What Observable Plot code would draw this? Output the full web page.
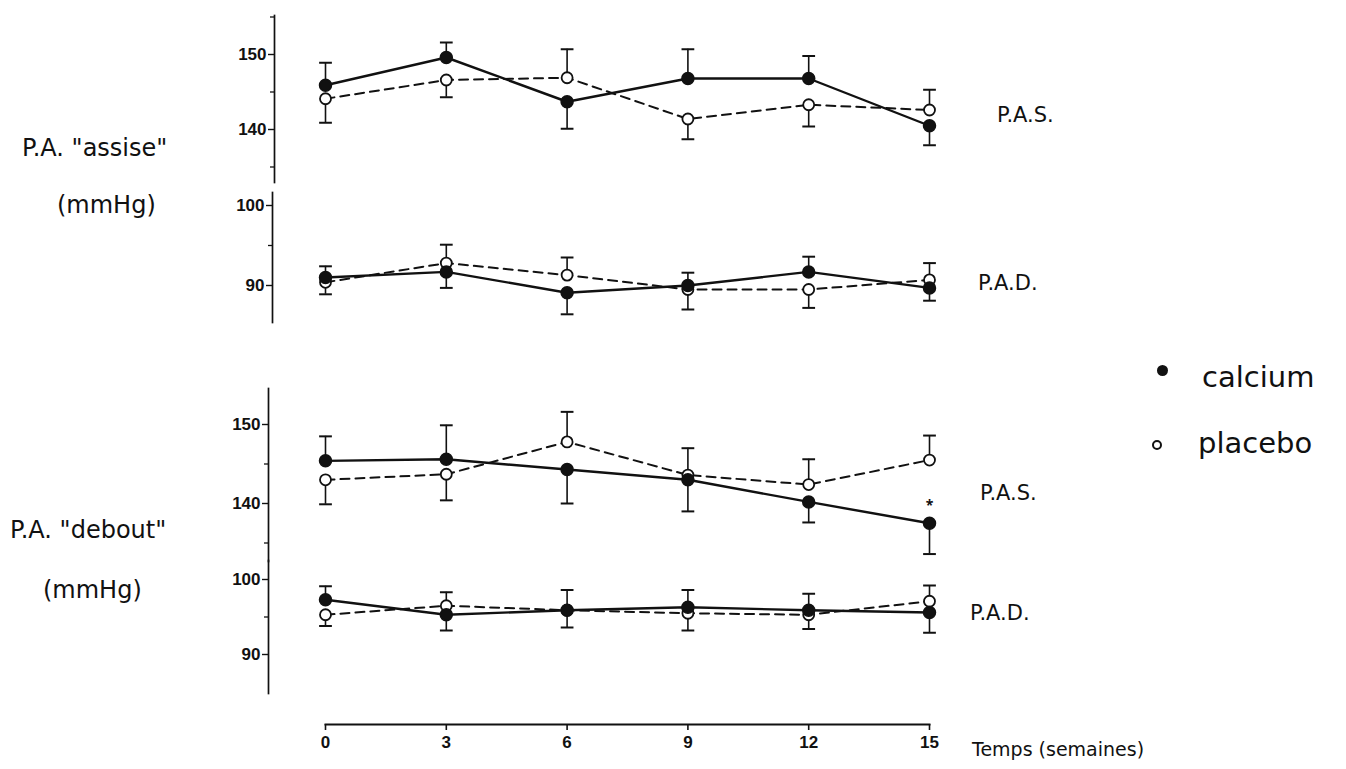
<!DOCTYPE html>
<html><head><meta charset="utf-8">
<script src="https://cdn.jsdelivr.net/npm/d3@7"></script>
<script src="https://cdn.jsdelivr.net/npm/@observablehq/plot@0.6"></script>
<style>
body{margin:0;background:#fff;}
#wrap{position:relative;width:1346px;height:769px;overflow:hidden;background:#fff;font-family:"DejaVu Sans",sans-serif;color:#111;}
#wrap svg{position:absolute;left:0;top:0;}
.lbl{position:absolute;white-space:nowrap;line-height:1;transform:translateY(-50%);}
.mk{position:absolute;border-radius:50%;box-sizing:border-box;}
</style></head><body><div id="wrap"></div>
<script>
// ---- data ----
const weeks = [0, 3, 6, 9, 12, 15];
const xTicks = [0, 3, 6, 9, 12, 15];

// P.A. "assise" — P.A.S.
const assisePAS_calcium     = [145.9, 149.6, 143.7, 146.8, 146.8, 140.5];
const assisePAS_calciumErr  = [148.9, 151.6, 140.1, 150.7, 149.8, 137.9];
const assisePAS_placebo     = [144.1, 146.6, 146.9, 141.4, 143.3, 142.6];
const assisePAS_placeboErr  = [140.9, 144.3, 150.7, 138.7, 140.4, 145.3];
// P.A. "assise" — P.A.D.
const assisePAD_calcium     = [91.0, 91.7, 89.1, 90.0, 91.7, 89.7];
const assisePAD_calciumErr  = [92.4, 89.7, 86.4, 91.6, 93.6, 88.1];
const assisePAD_placebo     = [90.4, 92.8, 91.3, 89.5, 89.5, 90.7];
const assisePAD_placeboErr  = [88.9, 95.1, 93.5, 87.0, 87.2, 92.8];
// P.A. "debout" — P.A.S.
const deboutPAS_calcium     = [145.4, 145.6, 144.3, 143.0, 140.2, 137.5];
const deboutPAS_calciumErr  = [148.5, 149.9, 140.0, 139.0, 137.6, 133.6];
const deboutPAS_placebo     = [143.0, 143.7, 147.8, 143.6, 142.4, 145.5];
const deboutPAS_placeboErr  = [139.9, 140.4, 151.6, 147.0, 145.6, 148.6];
// P.A. "debout" — P.A.D.
const deboutPAD_calcium     = [97.3, 95.3, 95.9, 96.3, 95.9, 95.6];
const deboutPAD_calciumErr  = [99.1, 93.2, 93.6, 98.6, 98.1, 92.9];
const deboutPAD_placebo     = [95.3, 96.5, 95.9, 95.5, 95.3, 97.1];
const deboutPAD_placeboErr  = [93.8, 98.3, 98.6, 93.2, 93.4, 99.2];

const sysTicks = [140, 150], sysMinor = [135, 145, 155];
const diaTicks = [90, 100], diaMinor = [95];
const starPoint = [{week: 15, v: 139.8}];

// ---- layout ----
const W = 1346, H = 769;
const X0 = 325, X15 = 929;
const wrap = document.getElementById("wrap");
const cap = {draw(ctx, size) { const w = Math.sqrt(size) * 1.2; ctx.moveTo(-w, 0); ctx.lineTo(w, 0); }};

function rows(vals, errs) { return weeks.map((w, i) => ({week: w, v: vals[i], e: errs[i]})); }

function panel(p) {
  const cal = rows(p.cal, p.calErr), pla = rows(p.pla, p.plaErr);
  return Plot.plot({
    width: W, height: H,
    marginLeft: p.axisX, marginRight: W - X15 - 30, marginTop: p.top, marginBottom: H - p.bottom,
    x: {domain: [0, 15], range: [X0, X15], axis: null, label: null},
    y: {domain: p.ticks, range: p.tickPx, label: null, axis: null},
    style: {background: "transparent", overflow: "visible"},
    marks: [
      Plot.frame({anchor: "left", stroke: "#111", strokeWidth: 1.7}),
      Plot.axisY(p.ticks, {anchor: "left", tickSize: 6, tickPadding: 2, tickFormat: d => String(d),
        fontSize: 17, fontWeight: "bold", fontFamily: "Liberation Sans, Arial, sans-serif", stroke: "#111", fill: "#111", strokeWidth: 1.4}),
      Plot.axisY(p.minor, {anchor: "left", tickSize: 4, tickFormat: () => "", stroke: "#111", strokeWidth: 1.3}),
      Plot.ruleX(cal, {x: "week", y1: "v", y2: "e", stroke: "#111", strokeWidth: 1.6}),
      Plot.dot(cal, {x: "week", y: "e", symbol: cap, r: 3, stroke: "#111", strokeWidth: 2}),
      Plot.ruleX(pla, {x: "week", y1: "v", y2: "e", stroke: "#111", strokeWidth: 1.6}),
      Plot.dot(pla, {x: "week", y: "e", symbol: cap, r: 3, stroke: "#111", strokeWidth: 2}),
      Plot.line(pla, {x: "week", y: "v", stroke: "#111", strokeWidth: 2, strokeDasharray: "9,6"}),
      Plot.line(cal, {x: "week", y: "v", stroke: "#111", strokeWidth: 2.4}),
      Plot.dot(pla, {x: "week", y: "v", r: 5.5, fill: "white", stroke: "#111", strokeWidth: 1.8}),
      Plot.dot(cal, {x: "week", y: "v", r: 6, fill: "#111", stroke: "#111"}),
      ...(p.star ? [Plot.text(p.star, {x: "week", y: "v", text: () => "*", fontSize: 14, fontWeight: "bold", fill: "#111"})] : [])
    ]
  });
}

const panels = [
  {axisX: 274, top: 15, bottom: 182, ticks: sysTicks, tickPx: [129, 54], minor: sysMinor,
   cal: assisePAS_calcium, calErr: assisePAS_calciumErr, pla: assisePAS_placebo, plaErr: assisePAS_placeboErr},
  {axisX: 272, top: 192, bottom: 322, ticks: diaTicks, tickPx: [285, 205], minor: diaMinor,
   cal: assisePAD_calcium, calErr: assisePAD_calciumErr, pla: assisePAD_placebo, plaErr: assisePAD_placeboErr},
  {axisX: 268, top: 388, bottom: 561, ticks: sysTicks, tickPx: [503, 424], minor: [135, 145],
   cal: deboutPAS_calcium, calErr: deboutPAS_calciumErr, pla: deboutPAS_placebo, plaErr: deboutPAS_placeboErr, star: starPoint},
  {axisX: 268, top: 560, bottom: 693, ticks: diaTicks, tickPx: [654, 579], minor: diaMinor,
   cal: deboutPAD_calcium, calErr: deboutPAD_calciumErr, pla: deboutPAD_placebo, plaErr: deboutPAD_placeboErr}
];
panels.forEach(p => wrap.appendChild(panel(p)));

// x axis
wrap.appendChild(Plot.plot({
  width: W, height: H, marginLeft: X0, marginRight: W - X15, marginTop: 700, marginBottom: H - 724,
  x: {domain: [0, 15], label: null, axis: null},
  style: {background: "transparent", overflow: "visible"},
  marks: [
    Plot.frame({anchor: "bottom", stroke: "#111", strokeWidth: 2}),
    Plot.axisX(xTicks, {anchor: "bottom", tickSize: 6, tickPadding: 5, fontSize: 17, fontWeight: "bold",
      fontFamily: "Liberation Sans, Arial, sans-serif", stroke: "#111", fill: "#111", strokeWidth: 1.6})
  ]
}));

// text labels
function label(text, left, cy, size) {
  const d = document.createElement("div");
  d.className = "lbl"; d.textContent = text;
  d.style.left = left + "px"; d.style.top = cy + "px"; d.style.fontSize = size + "px";
  wrap.appendChild(d);
}
label('P.A. "assise"', 22, 148, 24);
label('(mmHg)', 57, 205, 24);
label('P.A. "debout"', 10, 530, 24);
label('(mmHg)', 43, 590, 24);
label('P.A.S.', 997, 115, 21);
label('P.A.D.', 978, 283, 21);
label('P.A.S.', 980, 493, 21);
label('P.A.D.', 970, 613, 21);
label('Temps (semaines)', 972, 749, 19);
label('calcium', 1202, 377, 29);
label('placebo', 1198, 443, 29);

function marker(cx, cy, r, filled) {
  const d = document.createElement("div");
  d.className = "mk";
  d.style.left = (cx - r) + "px"; d.style.top = (cy - r) + "px";
  d.style.width = 2 * r + "px"; d.style.height = 2 * r + "px";
  d.style.background = filled ? "#111" : "#fff";
  d.style.border = filled ? "none" : "2px solid #111";
  wrap.appendChild(d);
}
marker(1162, 370, 5.5, true);
marker(1157, 445, 5, false);
</script></body></html>
